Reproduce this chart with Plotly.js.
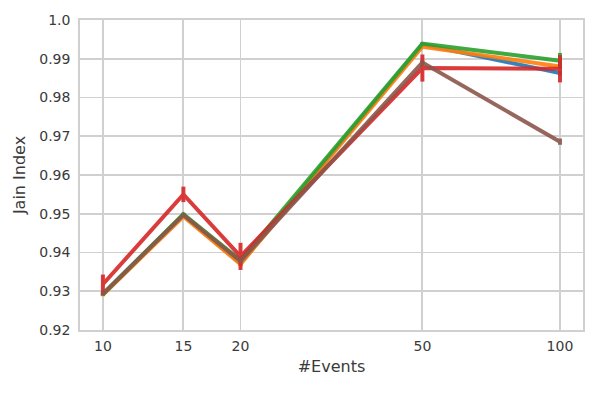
<!DOCTYPE html>
<html>
<head>
<meta charset="utf-8">
<script src="https://cdn.plot.ly/plotly-3.0.1.min.js"></script>
<style>
  html, body { margin: 0; padding: 0; background: #fff; }
  #chart { width: 598px; height: 394px; }
</style>
</head>
<body>
<div id="chart"></div>
<script>
// number of events on the x axis (log scale)
var events = [10, 15, 20, 50, 100];

var seriesNames = ['A', 'B', 'C', 'D', 'E'];
var seriesColors = ['#1f77b4', '#ff7f0e', '#2ca02c', '#d62728', '#8c564b'];

var jainBlue   = [0.9292, 0.9497, 0.9372, 0.9937, 0.9863];
var jainOrange = [0.9291, 0.9493, 0.9370, 0.9931, 0.9880];
var jainGreen  = [0.9293, 0.9499, 0.9380, 0.9939, 0.9895];
var jainRed    = [0.9318, 0.9550, 0.9390, 0.9876, 0.9874];
var jainBrown  = [0.9293, 0.9497, 0.9378, 0.9890, 0.9686];

var errBlue   = [0.0004, 0.0004, 0.0005, 0.0004, 0.0006];
var errOrange = [0.0004, 0.0004, 0.0005, 0.0004, 0.0006];
var errGreen  = [0.0004, 0.0004, 0.0005, 0.0004, 0.0020];
var errRed    = [0.0025, 0.0020, 0.0035, 0.0035, 0.0035];
var errBrown  = [0.0004, 0.0004, 0.0005, 0.0006, 0.0008];

var seriesValues = [jainBlue, jainOrange, jainGreen, jainRed, jainBrown];
var seriesErrors = [errBlue, errOrange, errGreen, errRed, errBrown];

var fontFamily = 'DejaVu Sans, sans-serif';
var textColor = '#3a3a3a';
var gridColor = '#d0d0d0';

var data = [];
for (var i = 0; i < seriesValues.length; i++) {
  data.push({
    x: events,
    y: seriesValues[i],
    name: seriesNames[i],
    type: 'scatter',
    mode: 'lines',
    line: { color: seriesColors[i], width: 4 },
    opacity: 0.9,
    error_y: {
      type: 'data',
      array: seriesErrors[i],
      visible: true,
      color: seriesColors[i],
      thickness: 4,
      width: 0
    },
    showlegend: false
  });
}

var layout = {
  width: 598,
  height: 394,
  margin: { l: 80, r: 15, t: 20, b: 64 },
  paper_bgcolor: '#ffffff',
  plot_bgcolor: '#ffffff',
  font: { family: fontFamily, size: 14, color: textColor },
  xaxis: {
    type: 'log',
    range: [Math.log10(8.91), Math.log10(112.3)],
    tickvals: events,
    ticktext: events.map(String),
    showgrid: true,
    gridcolor: gridColor,
    gridwidth: 1.8,
    showline: true,
    linecolor: gridColor,
    linewidth: 1.8,
    mirror: true,
    zeroline: false,
    ticks: '',
    ticklabelstandoff: 2,
    title: { text: '#Events', font: { size: 16, color: textColor }, standoff: 8 }
  },
  yaxis: {
    range: [0.92, 1.0],
    tickvals: [0.92, 0.93, 0.94, 0.95, 0.96, 0.97, 0.98, 0.99, 1.0],
    ticktext: ['0.92', '0.93', '0.94', '0.95', '0.96', '0.97', '0.98', '0.99', '1.0'],
    showgrid: true,
    gridcolor: gridColor,
    gridwidth: 1.8,
    showline: true,
    linecolor: gridColor,
    linewidth: 1.8,
    mirror: true,
    zeroline: false,
    ticks: '',
    ticklabelstandoff: 5,
    title: { text: 'Jain Index', font: { size: 16, color: textColor }, standoff: 10 }
  }
};

Plotly.newPlot('chart', data, layout, { displayModeBar: false, staticPlot: true });
</script>
</body>
</html>
